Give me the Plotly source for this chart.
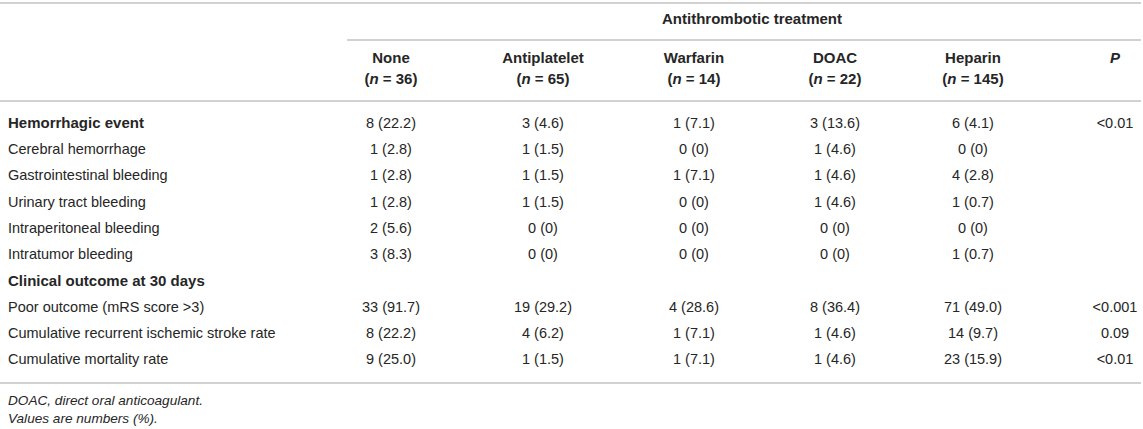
import plotly.graph_objects as go

# table contents
row_labels = [
    "Hemorrhagic event",
    "Cerebral hemorrhage",
    "Gastrointestinal bleeding",
    "Urinary tract bleeding",
    "Intraperitoneal bleeding",
    "Intratumor bleeding",
    "Clinical outcome at 30 days",
    "Poor outcome (mRS score >3)",
    "Cumulative recurrent ischemic stroke rate",
    "Cumulative mortality rate",
]
bold_rows = [0, 6]

groups = ["None", "Antiplatelet", "Warfarin", "DOAC", "Heparin"]
group_n = [36, 65, 14, 22, 145]

none_vals = ["8 (22.2)", "1 (2.8)", "1 (2.8)", "1 (2.8)", "2 (5.6)", "3 (8.3)",
             "", "33 (91.7)", "8 (22.2)", "9 (25.0)"]
antiplatelet_vals = ["3 (4.6)", "1 (1.5)", "1 (1.5)", "1 (1.5)", "0 (0)", "0 (0)",
                     "", "19 (29.2)", "4 (6.2)", "1 (1.5)"]
warfarin_vals = ["1 (7.1)", "0 (0)", "1 (7.1)", "0 (0)", "0 (0)", "0 (0)",
                 "", "4 (28.6)", "1 (7.1)", "1 (7.1)"]
doac_vals = ["3 (13.6)", "1 (4.6)", "1 (4.6)", "1 (4.6)", "0 (0)", "0 (0)",
             "", "8 (36.4)", "1 (4.6)", "1 (4.6)"]
heparin_vals = ["6 (4.1)", "0 (0)", "4 (2.8)", "1 (0.7)", "0 (0)", "1 (0.7)",
                "", "71 (49.0)", "14 (9.7)", "23 (15.9)"]
p_vals = ["<0.01", "", "", "", "", "", "", "<0.001", "0.09", "<0.01"]

spanner = "Antithrombotic treatment"
footnotes = ["DOAC, direct oral anticoagulant.", "Values are numbers (%)."]

# layout (pixel coordinates on a 1143x429 canvas)
W, H = 1143, 429
col_x = [391, 543, 694, 835, 973, 1115]
label_x = 8
row_y0, row_dy = 124, 26.3
line_color = "#c2c2c2"
txt_color = "#262626"
FONT = "Liberation Sans, Arial, sans-serif"
fs = 14.5
fs_bold = 15


def esc(s):
    return s.replace("<", "&lt;").replace(">", "&gt;")


def text_trace(xs, ys, texts, pos="middle center", size=fs):
    return go.Scatter(
        x=xs, y=ys, text=texts, mode="text", textposition=pos,
        textfont=dict(family=FONT, size=size, color=txt_color),
        hoverinfo="skip", showlegend=False)


row_y = [row_y0 + i * row_dy for i in range(len(row_labels))]

fig = go.Figure()

# row labels (regular and bold group headings)
plain = [i for i in range(len(row_labels)) if i not in bold_rows]
fig.add_trace(text_trace([label_x] * len(plain), [row_y[i] for i in plain],
                         [esc(row_labels[i]) for i in plain], "middle right"))
fig.add_trace(text_trace([label_x] * len(bold_rows), [row_y[i] for i in bold_rows],
                         ["<b>%s</b>" % esc(row_labels[i]) for i in bold_rows],
                         "middle right", fs_bold))

# value columns
columns = [none_vals, antiplatelet_vals, warfarin_vals, doac_vals, heparin_vals, p_vals]
for cx, vals in zip(col_x, columns):
    fig.add_trace(text_trace([cx] * len(vals), row_y, [esc(v) for v in vals]))

# column headers
fig.add_trace(text_trace(col_x[:5], [59] * 5,
                         ["<b>%s</b>" % g for g in groups], size=fs_bold))
fig.add_trace(text_trace(col_x[:5], [80] * 5,
                         ["<b>(<i>n</i> = %d)</b>" % n for n in group_n], size=fs_bold))
fig.add_trace(text_trace([col_x[5]], [59], ["<b><i>P</i></b>"], size=fs_bold))
fig.add_trace(text_trace([752], [20], ["<b>%s</b>" % spanner], size=fs_bold))

# footnotes
fig.add_trace(text_trace([label_x] * 2, [402, 420],
                         ["<i>%s</i>" % f for f in footnotes], "middle right", 13.6))

# rules
rules = [(0, 1141, 3), (347, 1141, 40), (0, 1141, 101), (0, 1141, 383)]
for x0, x1, y in rules:
    fig.add_shape(type="line", x0=x0, x1=x1, y0=y, y1=y,
                  line=dict(color=line_color, width=1.6), layer="below")

fig.update_xaxes(range=[0, W], visible=False, fixedrange=True)
fig.update_yaxes(range=[H, 0], visible=False, fixedrange=True)
fig.update_layout(width=W, height=H, margin=dict(l=0, r=0, t=0, b=0),
                  plot_bgcolor="white", paper_bgcolor="white")
fig.write_html("out.html", config={"displayModeBar": False},
               post_script="document.body.style.margin='0';"
                           "document.body.style.overflow='hidden';")
